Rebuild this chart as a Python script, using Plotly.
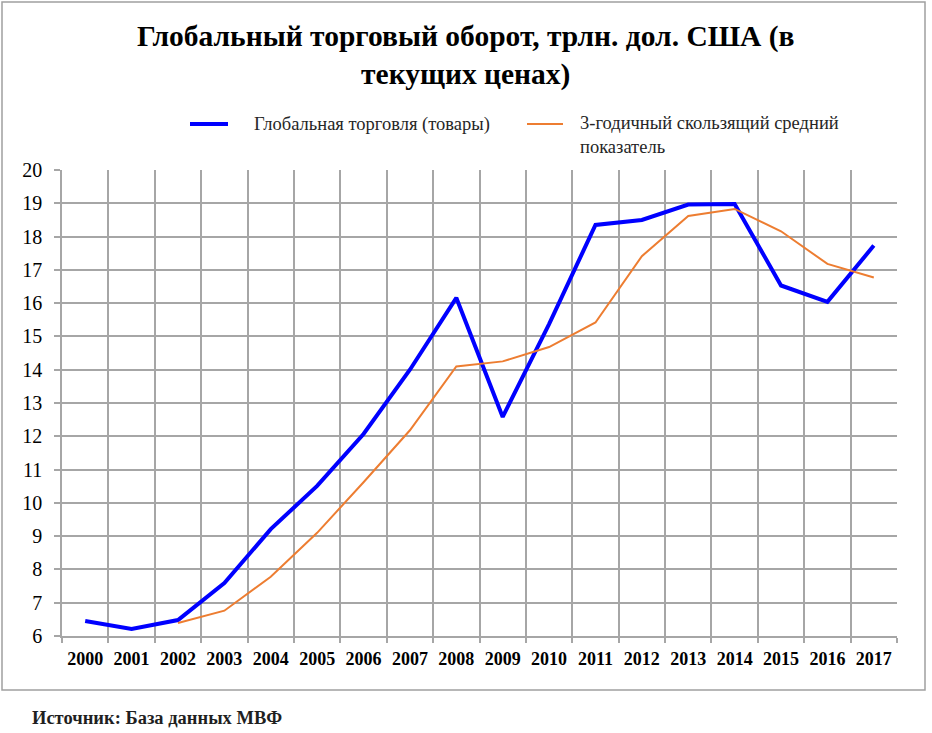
import plotly.graph_objects as go

years = [str(y) for y in range(2000, 2018)]
trade = [6.45, 6.21, 6.48, 7.59, 9.21, 10.51, 12.07, 14.00, 16.16, 12.58,
         15.37, 18.35, 18.50, 18.96, 18.98, 16.53, 16.04, 17.73]
ma3_years = years[2:]
ma3 = [6.39, 6.76, 7.78, 9.10, 10.62, 12.18, 14.10, 14.25, 14.68, 15.42,
       17.41, 18.62, 18.83, 18.16, 17.18, 16.77]
y_ticks = list(range(6, 21))

name_trade = "Глобальная торговля (товары)"
name_ma = "3-годичный скользящий средний<br>показатель"

W, H = 932, 733
L, R, T, B = 62, 897, 170, 636


def px2x(px):
    return (px - L) / (R - L)


def py2y(py):
    return (B - py) / (B - T)


SERIF = "Liberation Serif"
GRID = "#a6a6a6"

fig = go.Figure()
fig.add_trace(go.Scatter(x=years, y=trade, mode="lines", name=name_trade,
                         line=dict(color="#0000ff", width=4), showlegend=False))
fig.add_trace(go.Scatter(x=ma3_years, y=ma3, mode="lines", name=name_ma,
                         line=dict(color="#ed7d31", width=2), showlegend=False))

shapes = [
    # outer frame
    dict(type="rect", xref="paper", yref="paper",
         x0=px2x(2), x1=px2x(925), y0=py2y(690), y1=py2y(2),
         line=dict(color="#a0a0a0", width=1.5), layer="below"),
    # legend samples
    dict(type="line", xref="paper", yref="paper",
         x0=px2x(190), x1=px2x(228), y0=py2y(124), y1=py2y(124),
         line=dict(color="#0000ff", width=4)),
    dict(type="line", xref="paper", yref="paper",
         x0=px2x(527), x1=px2x(563), y0=py2y(124), y1=py2y(124),
         line=dict(color="#ed7d31", width=2)),
]

annotations = [
    dict(text=name_trade, xref="paper", yref="paper", x=px2x(252), y=py2y(124),
         xanchor="left", yanchor="middle", showarrow=False,
         font=dict(family=SERIF, size=18.5, color="#262626")),
    dict(text=name_ma, xref="paper", yref="paper", x=px2x(578), y=py2y(135),
         xanchor="left", yanchor="middle", align="left", showarrow=False,
         font=dict(family=SERIF, size=18.5, color="#262626")),
    dict(text="<b>Источник: База данных МВФ</b>", xref="paper", yref="paper",
         x=px2x(30), y=py2y(718), xanchor="left", yanchor="middle",
         showarrow=False, font=dict(family=SERIF, size=18.5, color="#1f1f1f")),
    dict(text="<b>Глобальный торговый оборот, трлн. дол. США (в<br>текущих ценах)</b>",
         xref="paper", yref="paper", x=px2x(466), y=py2y(55),
         xanchor="center", yanchor="middle", align="center", showarrow=False,
         font=dict(family=SERIF, size=29.5, color="#000000")),
]

fig.update_layout(
    width=W, height=H,
    margin=dict(l=L, r=W - R, t=T, b=H - B),
    paper_bgcolor="white", plot_bgcolor="white",
    font=dict(family=SERIF),
    shapes=shapes,
    annotations=annotations,
    showlegend=False,
)

fig.update_xaxes(type="category", categoryorder="array", categoryarray=years,
                 range=[-0.5, 17.5], tickson="boundaries",
                 showgrid=True, gridcolor=GRID, gridwidth=1.5,
                 showline=True, linecolor=GRID, linewidth=1.5, mirror=False,
                 ticks="outside", ticklen=5, tickcolor=GRID, tickwidth=1.5,
                 ticklabelstandoff=6,
                 tickfont=dict(family=SERIF, size=18, color="#000000"),
                 tickprefix="<b>", ticksuffix="</b>", zeroline=False)
fig.update_yaxes(range=[6, 20], tickvals=y_ticks,
                 showgrid=True, gridcolor=GRID, gridwidth=1.5,
                 showline=True, linecolor=GRID, linewidth=1.5,
                 ticks="outside", ticklen=6, tickcolor=GRID, tickwidth=1.5,
                 ticklabelstandoff=8,
                 tickfont=dict(family=SERIF, size=20, color="#000000"),
                 zeroline=False)

fig.write_html("out.html", config={"displayModeBar": False},
               post_script="document.body.style.margin='0';document.body.style.overflow='hidden';")
